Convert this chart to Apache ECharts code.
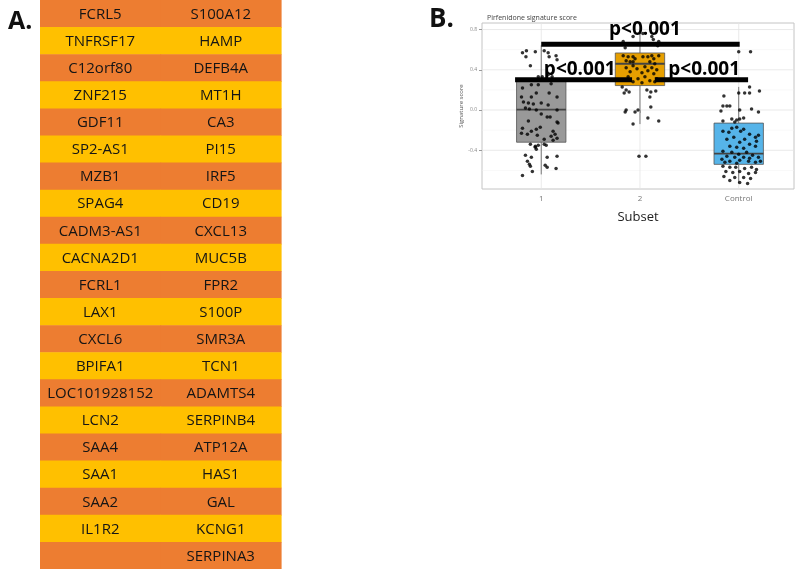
<!DOCTYPE html>
<html><head><meta charset="utf-8">
<script src="https://cdn.jsdelivr.net/npm/echarts@6/dist/echarts.min.js"></script>
<style>html,body{margin:0;padding:0;background:#fff}#c{width:800px;height:569px}</style>
</head><body><div id="c"></div>
<script>
// ---------- Panel A: gene table ----------
const geneCol1 = ['FCRL5','TNFRSF17','C12orf80','ZNF215','GDF11','SP2-AS1','MZB1','SPAG4','CADM3-AS1','CACNA2D1','FCRL1','LAX1','CXCL6','BPIFA1','LOC101928152','LCN2','SAA4','SAA1','SAA2','IL1R2',''];
const geneCol2 = ['S100A12','HAMP','DEFB4A','MT1H','CA3','PI15','IRF5','CD19','CXCL13','MUC5B','FPR2','S100P','SMR3A','TCN1','ADAMTS4','SERPINB4','ATP12A','HAS1','GAL','KCNG1','SERPINA3'];
const rowColors = ['#ED7D31','#FFC000'];

// ---------- Panel B: boxplot ----------
const subsetLabels = ['1','2','Control'];
const subsetPos = [1,2,3];
const boxColors = ['#999999','#E69F00','#56B4E9'];
const boxLow  = [-0.64, -0.14, -0.73];
const boxQ1   = [-0.32,  0.243, -0.54];
const boxMed  = [ 0.003, 0.46, -0.433];
const boxQ3   = [ 0.303, 0.567, -0.13];
const boxHigh = [ 0.643, 0.76,  0.23];
const yMajor = [-0.4, 0, 0.4, 0.8];
const yMinor = [-0.6, -0.2, 0.2, 0.6];

// jitter points: [horizontal offset from group centre, score]
const jitter1 = [[-0.19,0.57],[-0.15,0.59],[-0.155,0.53],[-0.06,0.58],[0.03,0.59],[0.07,0.57],[0.08,0.53],[0.15,0.54],[0.16,0.50],[-0.11,0.44],[-0.03,0.33],[0.01,0.33],[0.07,0.35],[0.11,0.33],
 [-0.10,0.25],[-0.03,0.25],[0.10,0.26],[-0.19,0.22],[-0.05,0.17],[0.08,0.17],[-0.20,0.13],[-0.10,0.13],[0.16,0.13],[-0.18,0.08],[-0.13,0.07],[-0.08,0.06],[0.0,0.07],[0.07,0.05],[-0.16,0.02],[-0.12,0.01],[-0.05,0.0],[0.16,0.0],[0.0,-0.04],[0.06,-0.07],[0.09,-0.07],[-0.13,-0.11],[0.16,-0.12],[0.17,-0.13],[-0.01,-0.17],[-0.19,-0.18],[-0.05,-0.19],[-0.10,-0.21],[0.12,-0.21],[-0.20,-0.23],[-0.14,-0.24],[-0.04,-0.25],[0.14,-0.24],[0.16,-0.28],[0.12,-0.30],[0.03,-0.29],[0.10,-0.26],
 [-0.11,-0.34],[-0.06,-0.36],[-0.03,-0.35],[0.03,-0.34],[0.05,-0.35],[-0.06,-0.37],[-0.05,-0.39],[-0.16,-0.45],[-0.10,-0.47],[0.06,-0.47],[0.16,-0.46],[-0.14,-0.51],[-0.12,-0.54],[-0.11,-0.56],[0.04,-0.55],[0.06,-0.57],[0.15,-0.58],[-0.09,-0.61],[-0.19,-0.65]];
const jitter2 = [[-0.17,0.68],[-0.07,0.73],[0.03,0.76],[0.12,0.73],[0.135,0.70],[0.19,0.68],[-0.15,0.62],[0.18,0.64],
 [-0.17,0.54],[-0.12,0.53],[-0.07,0.53],[-0.05,0.51],[0.03,0.53],[0.08,0.53],[0.12,0.54],[0.14,0.51],[0.19,0.54],[-0.14,0.49],[-0.10,0.48],[-0.07,0.48],[0.10,0.48],[0.15,0.46],[-0.14,0.42],[-0.07,0.44],[-0.03,0.41],[0.05,0.43],[0.12,0.42],[0.17,0.40],[-0.10,0.38],[0.02,0.37],[0.08,0.39],[0.14,0.36],[-0.12,0.33],[-0.02,0.31],[0.05,0.33],[0.10,0.29],[0.17,0.31],[0.02,0.27],[-0.07,0.28],[0.15,0.28],
 [-0.18,0.23],[-0.14,0.20],[-0.16,0.17],[-0.11,0.18],[0.07,0.20],[0.11,0.18],[0.16,0.19],[0.10,0.13],[-0.14,0.00],[-0.15,-0.02],[-0.05,-0.02],[-0.02,0.00],[0.11,0.03],[-0.07,-0.14],[0.08,-0.08],[0.19,-0.11],[-0.01,-0.46],[0.06,-0.46]];
const jitter3 = [[0.0,0.58],[0.12,0.58],[0.11,0.23],[0.06,0.17],[0.11,0.17],[0.0,0.17],[0.21,0.19],[-0.15,0.14],[-0.16,0.04],[-0.12,0.04],[-0.09,0.04],[-0.18,-0.01],[0.01,0.0],[0.13,0.01],[0.20,-0.02],[-0.07,-0.09],[-0.02,-0.10],[0.01,-0.09],[0.05,-0.08],[-0.16,-0.11],[-0.04,-0.12],
 [-0.07,-0.18],[-0.02,-0.17],[0.05,-0.19],[-0.16,-0.21],[-0.10,-0.22],[0.02,-0.21],[0.20,-0.25],[0.11,-0.24],[-0.05,-0.27],[-0.12,-0.29],[0.06,-0.29],[0.17,-0.27],[0.01,-0.32],[0.11,-0.34],[0.18,-0.31],[-0.09,-0.36],[-0.02,-0.37],[0.05,-0.38],[0.17,-0.36],[-0.16,-0.41],[-0.07,-0.42],[0.0,-0.44],[0.08,-0.42],[0.14,-0.45],[-0.12,-0.46],[-0.04,-0.47],[0.05,-0.47],[0.11,-0.48],[0.20,-0.47],[-0.17,-0.49],[-0.09,-0.51],[0.01,-0.50],[0.10,-0.51],[0.17,-0.52],[0.22,-0.51],[-0.14,-0.52],[-0.02,-0.53],
 [-0.16,-0.56],[-0.09,-0.57],[-0.03,-0.57],[0.06,-0.58],[0.13,-0.57],[0.18,-0.59],[-0.13,-0.61],[-0.06,-0.62],[0.01,-0.61],[0.10,-0.63],[0.17,-0.62],[-0.15,-0.66],[-0.04,-0.67],[0.05,-0.67],[0.12,-0.68],[-0.09,-0.70],[0.01,-0.72],[0.09,-0.73]];
const jitterGroups = [jitter1, jitter2, jitter3];

// significance annotations: [x start, x end, y]
const pBrackets = [[1.0, 3.01, 0.653],[0.735, 1.92, 0.30],[2.15, 3.095, 0.30]];
const pLabelPos = [[2.05, 0.80],[1.39, 0.40],[2.65, 0.40]];
const pLabelText = ['p<0.001','p<0.001','p<0.001'];

// ---------- build ----------
const tableData = [];
for (let r = 0; r < geneCol1.length; r++) { tableData.push([0, r]); tableData.push([1, r]); }

const gridLineData = [];
yMajor.forEach(v => gridLineData.push([1, v, 0]));
yMinor.forEach(v => gridLineData.push([1, v, 1]));
subsetPos.forEach(v => gridLineData.push([v, 0, 2]));

const boxData = subsetPos.map((p, i) => [p, boxLow[i], boxQ1[i], boxMed[i], boxQ3[i], boxHigh[i]]);
const pointData = [];
jitterGroups.forEach((g, i) => g.forEach(d => pointData.push([subsetPos[i] + d[0], d[1]])));
const bracketData = pBrackets.map(b => [b[0], b[2], b[1]]);
const boxWidth = 0.5;

const chart = echarts.init(document.getElementById('c'), null, {renderer: 'canvas'});
chart.setOption({
  animation: false,
  backgroundColor: '#fff',
  textStyle: {fontFamily: 'Open Sans'},
  title: [
    {text: 'A.', left: 3, top: 4, textStyle: {fontSize: 25, fontWeight: 'bold', color: '#111', fontFamily: 'Open Sans'}},
    {text: 'B.', left: 424, top: 2, textStyle: {fontSize: 26, fontWeight: 'bold', color: '#111', fontFamily: 'Open Sans'}},
    {text: 'Pirfenidone signature score', left: 482, top: 9, textStyle: {fontSize: 7, fontWeight: 'normal', color: '#444', fontFamily: 'Open Sans'}}
  ],
  grid: [
    {left: 40, top: 0, width: 241, height: 569},
    {left: 482, top: 23, width: 312, height: 166, show: true, borderColor: '#c4c4c4', borderWidth: 1, backgroundColor: '#fff'}
  ],
  xAxis: [
    {gridIndex: 0, type: 'category', data: ['c1','c2'], show: false},
    {gridIndex: 1, type: 'value', min: 0.4, max: 3.56,
     axisLine: {show: false}, splitLine: {show: false},
     axisTick: {show: true, customValues: subsetPos, length: 3, lineStyle: {color: '#999'}},
     axisLabel: {customValues: subsetPos, formatter: v => subsetLabels[subsetPos.indexOf(v)], fontSize: 8, color: '#777', margin: 6},
     name: 'Subset', nameLocation: 'middle', nameGap: 22, nameTextStyle: {fontSize: 13, color: '#222'}}
  ],
  yAxis: [
    {gridIndex: 0, type: 'category', data: geneCol1.map((_, i) => String(i)), inverse: true, show: false},
    {gridIndex: 1, type: 'value', min: -0.785, max: 0.865,
     axisLine: {show: false}, splitLine: {show: false},
     axisTick: {show: true, customValues: yMajor, length: 3, lineStyle: {color: '#999'}},
     axisLabel: {customValues: yMajor, formatter: v => v.toFixed(1), fontSize: 5, color: '#888', margin: 5},
     name: 'Signature score', nameLocation: 'middle', nameRotate: 90, nameGap: 17, nameTextStyle: {fontSize: 6, color: '#555'}}
  ],
  series: [
    {type: 'custom', xAxisIndex: 0, yAxisIndex: 0, data: tableData, silent: true,
     renderItem: (params, api) => {
       const col = api.value(0), row = api.value(1);
       const c = api.coord([col, row]);
       const s = api.size([1, 1]);
       const name = (col === 0 ? geneCol1 : geneCol2)[row];
       return {type: 'group', children: [
         {type: 'rect', shape: {x: c[0] - s[0] / 2, y: c[1] - s[1] / 2, width: s[0] + 0.6, height: s[1] + 0.6}, style: {fill: rowColors[row % 2]}},
         {type: 'text', style: {text: name, x: c[0], y: c[1] + 1, align: 'center', verticalAlign: 'middle', fontFamily: 'Open Sans', fontSize: 15, fill: '#151515'}}
       ]};
     }},
    {type: 'custom', xAxisIndex: 1, yAxisIndex: 1, data: gridLineData, silent: true, z: 1,
     renderItem: (params, api) => {
       const cs = params.coordSys;
       const kind = api.value(2);
       if (kind === 2) {
         const x = api.coord([api.value(0), 0])[0];
         return {type: 'line', shape: {x1: x, y1: cs.y, x2: x, y2: cs.y + cs.height}, style: {stroke: '#e3e3e3', lineWidth: 0.8}};
       }
       const y = api.coord([1, api.value(1)])[1];
       return {type: 'line', shape: {x1: cs.x, y1: y, x2: cs.x + cs.width, y2: y},
               style: {stroke: kind === 0 ? '#e3e3e3' : '#f0f0f0', lineWidth: kind === 0 ? 0.8 : 0.5}};
     }},
    {type: 'custom', xAxisIndex: 1, yAxisIndex: 1, data: boxData, silent: true, z: 2,
     encode: {x: 0, y: [1, 2, 3, 4, 5]},
     renderItem: (params, api) => {
       const x = api.value(0);
       const cx = api.coord([x, 0])[0];
       const l = api.coord([x - boxWidth / 2, 0])[0];
       const r = api.coord([x + boxWidth / 2, 0])[0];
       const yLow = api.coord([x, api.value(1)])[1];
       const yQ1 = api.coord([x, api.value(2)])[1];
       const yMed = api.coord([x, api.value(3)])[1];
       const yQ3 = api.coord([x, api.value(4)])[1];
       const yHigh = api.coord([x, api.value(5)])[1];
       const col = boxColors[params.dataIndex];
       return {type: 'group', children: [
         {type: 'line', shape: {x1: cx, y1: yHigh, x2: cx, y2: yQ3}, style: {stroke: '#777', lineWidth: 1}},
         {type: 'line', shape: {x1: cx, y1: yQ1, x2: cx, y2: yLow}, style: {stroke: '#777', lineWidth: 1}},
         {type: 'rect', shape: {x: l, y: yQ3, width: r - l, height: yQ1 - yQ3}, style: {fill: col, stroke: '#555', lineWidth: 0.8}},
         {type: 'line', shape: {x1: l, y1: yMed, x2: r, y2: yMed}, style: {stroke: '#444', lineWidth: 1.8}}
       ]};
     }},
    {type: 'scatter', xAxisIndex: 1, yAxisIndex: 1, data: pointData, symbolSize: 3.5, z: 3,
     itemStyle: {color: '#000'}, silent: true},
    {type: 'custom', xAxisIndex: 1, yAxisIndex: 1, data: bracketData, silent: true, z: 4,
     renderItem: (params, api) => {
       const a = api.coord([api.value(0), api.value(1)]);
       const b = api.coord([api.value(2), api.value(1)]);
       return {type: 'line', shape: {x1: a[0], y1: a[1], x2: b[0], y2: b[1]}, style: {stroke: '#000', lineWidth: 5}};
     }},
    {type: 'custom', xAxisIndex: 1, yAxisIndex: 1, data: pLabelPos, silent: true, z: 5,
     renderItem: (params, api) => {
       const p = api.coord([api.value(0), api.value(1)]);
       return {type: 'text', style: {text: pLabelText[params.dataIndex], x: p[0], y: p[1], align: 'center', verticalAlign: 'middle',
               fontFamily: 'Open Sans', fontWeight: 'bold', fontSize: 19, fill: '#000'}};
     }}
  ]
});
</script>
</body></html>
